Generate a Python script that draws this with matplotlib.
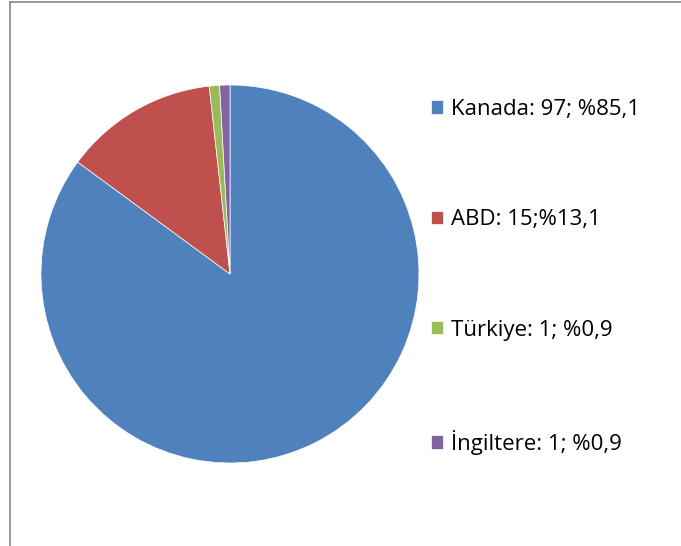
import matplotlib.pyplot as plt

countries = ["Kanada", "ABD", "Türkiye", "İngiltere"]
counts = [97, 15, 1, 1]
legend_labels = ["Kanada: 97; %85,1", "ABD: 15;%13,1", "Türkiye: 1; %0,9", "İngiltere: 1; %0,9"]
colors = ["#4F81BD", "#C0504D", "#9BBB59", "#8064A2"]

plt.rcParams['font.family'] = ['Open Sans', 'DejaVu Sans']

fig = plt.figure(figsize=(6.81, 5.46), dpi=100)
ax = fig.add_axes([41 / 681, 83 / 546, 378 / 681, 378 / 546])
wedges, _ = ax.pie(counts, colors=colors, startangle=90, counterclock=False,
                   wedgeprops=dict(linewidth=0.5, edgecolor='white'))
ax.set_xlim(-1, 1)
ax.set_ylim(-1, 1)
ax.set_aspect('equal')

leg = fig.legend(wedges, legend_labels, loc='upper left', bbox_to_anchor=(422 / 681, 1 - 90 / 546),
                 frameon=False, fontsize=16, handlelength=0.55, handleheight=0.55,
                 handletextpad=0.35, labelspacing=4.02, borderaxespad=0)

# outer border (left and top like the screenshot)
fig.add_artist(plt.Line2D([10 / 681, 10 / 681], [0, 1 - 2 / 546], color='#888888', lw=1.2))
fig.add_artist(plt.Line2D([10 / 681, 1], [1 - 2 / 546, 1 - 2 / 546], color='#888888', lw=1.2))

plt.savefig('out.png', dpi=100)
